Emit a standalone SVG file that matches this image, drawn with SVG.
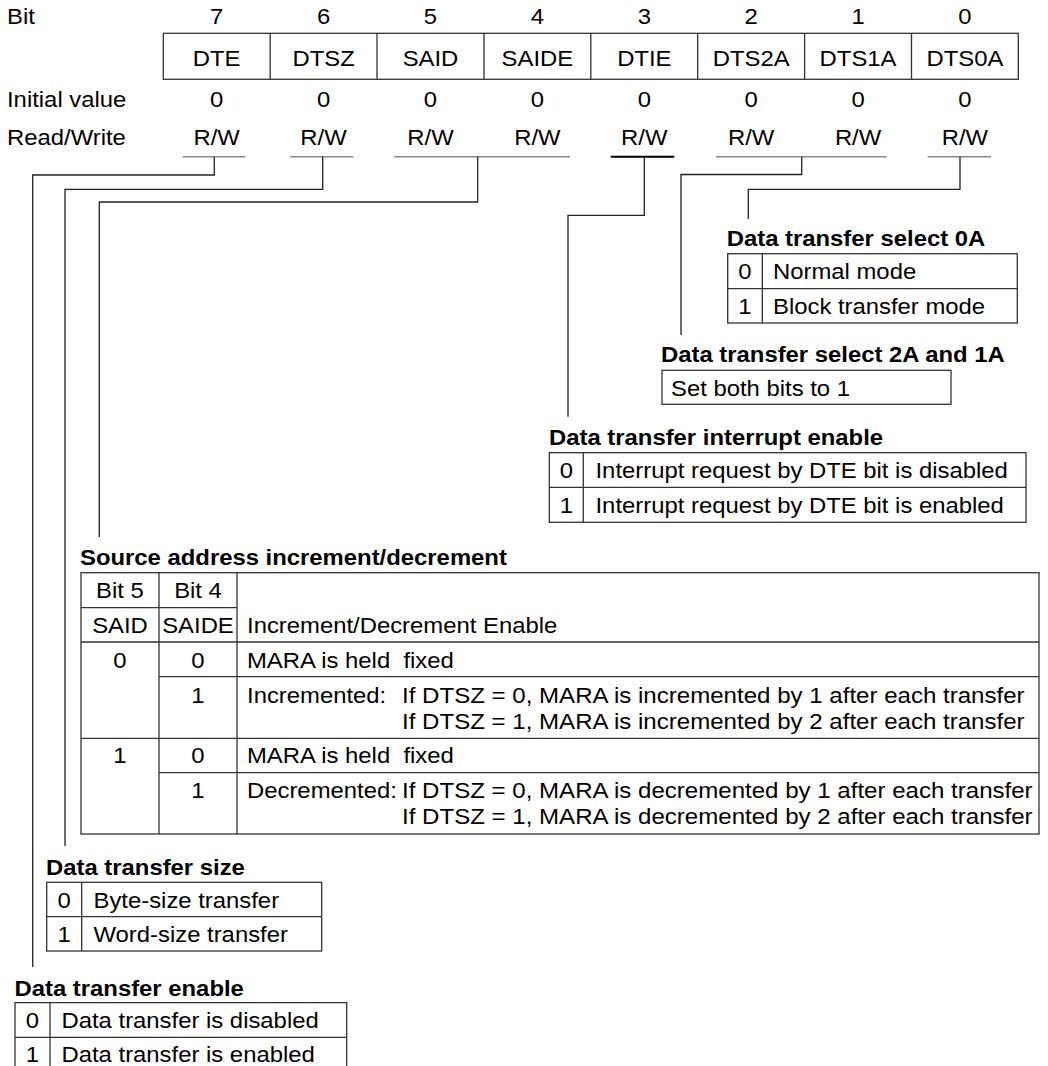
<svg xmlns="http://www.w3.org/2000/svg" width="1048" height="1066" viewBox="0 0 1048 1066">
<style>
text{font-family:"Liberation Sans",Arial,Helvetica,sans-serif;font-size:21.5px;fill:#000;transform-box:fill-box;transform:scaleX(1.11);transform-origin:0% 50%;white-space:pre}
.m{text-anchor:middle;transform-origin:50% 50%}
.b{font-weight:bold}
.w{transform:scaleX(1.12)}
.box{fill:none;stroke:#333;stroke-width:1.3}
.ln{fill:none;stroke:#333;stroke-width:1.3}
.ul{stroke:#888;stroke-width:1.6}
.conn{fill:none;stroke:#222;stroke-width:1.3}
</style>
<rect width="1048" height="1066" fill="#fff"/>

<g id="register">
<text x="7" y="24">Bit</text>
<text x="7" y="107">Initial value</text>
<text x="7" y="145.5">Read/Write</text>
<g class="bitnums">
<text class="m" x="216.7" y="24">7</text>
<text class="m" x="323.6" y="24">6</text>
<text class="m" x="430.5" y="24">5</text>
<text class="m" x="537.4" y="24">4</text>
<text class="m" x="644.3" y="24">3</text>
<text class="m" x="751.2" y="24">2</text>
<text class="m" x="858.1" y="24">1</text>
<text class="m" x="965" y="24">0</text>
</g>
<rect class="box" x="163.3" y="33.3" width="855" height="46"/>
<path class="ln" d="M270.2 33.3V79.3M377 33.3V79.3M484 33.3V79.3M590.8 33.3V79.3M697.7 33.3V79.3M804.6 33.3V79.3M911.5 33.3V79.3"/>
<text class="m" x="216.7" y="66">DTE</text>
<text class="m" x="323.6" y="66">DTSZ</text>
<text class="m" x="430.5" y="66">SAID</text>
<text class="m" x="537.4" y="66">SAIDE</text>
<text class="m" x="644.3" y="66">DTIE</text>
<text class="m" x="751.2" y="66">DTS2A</text>
<text class="m" x="858.1" y="66">DTS1A</text>
<text class="m" x="965" y="66">DTS0A</text>
<text class="m" x="216.7" y="107">0</text>
<text class="m" x="323.6" y="107">0</text>
<text class="m" x="430.5" y="107">0</text>
<text class="m" x="537.4" y="107">0</text>
<text class="m" x="644.3" y="107">0</text>
<text class="m" x="751.2" y="107">0</text>
<text class="m" x="858.1" y="107">0</text>
<text class="m" x="965" y="107">0</text>
<text class="m" x="216.7" y="145.5">R/W</text>
<text class="m" x="323.6" y="145.5">R/W</text>
<text class="m" x="430.5" y="145.5">R/W</text>
<text class="m" x="537.4" y="145.5">R/W</text>
<text class="m" x="644.3" y="145.5">R/W</text>
<text class="m" x="751.2" y="145.5">R/W</text>
<text class="m" x="858.1" y="145.5">R/W</text>
<text class="m" x="965" y="145.5">R/W</text>
<path class="ul" d="M182.7 156.7H245.3M290.3 156.7H353.3M394.3 156.7H570M716 156.7H886.7M927.7 156.7H991"/>
<path d="M610.7 156.7H674.3" stroke="#000" stroke-width="2"/>
</g>

<g id="connectors">
<polyline class="conn" points="214.3,156.7 214.3,175 32.7,175 32.7,967"/>
<polyline class="conn" points="322.7,156.7 322.7,189.3 65,189.3 65,846"/>
<polyline class="conn" points="477.7,156.7 477.7,202 99.3,202 99.3,537"/>
<polyline class="conn" points="644.3,156.7 644.3,215.3 568,215.3 568,416.7"/>
<polyline class="conn" points="801.7,156.7 801.7,174.5 681,174.5 681,335"/>
<polyline class="conn" points="960,156.7 960,189.3 748.3,189.3 748.3,219"/>
</g>

<g id="dts0a">
<text class="b" x="726.7" y="246">Data transfer select 0A</text>
<rect class="box" x="727.7" y="253.7" width="289.6" height="69.3"/>
<path class="ln" d="M727.7 288.7H1017.3M762.3 253.7V323"/>
<text class="m" x="745" y="279.3">0</text>
<text x="773" y="279.3">Normal mode</text>
<text class="m" x="745" y="314.3">1</text>
<text x="773" y="314.3">Block transfer mode</text>
</g>

<g id="dts2a1a">
<text class="b" x="661" y="361.7">Data transfer select 2A and 1A</text>
<rect class="box" x="662" y="370.3" width="289" height="34"/>
<text x="671" y="395.7">Set both bits to 1</text>
</g>

<g id="dtie">
<text class="b" x="549" y="445">Data transfer interrupt enable</text>
<rect class="box" x="549.3" y="452.7" width="476.7" height="69.6"/>
<path class="ln" d="M549.3 487.3H1026M583.3 452.7V522.3"/>
<text class="m" x="566.3" y="477.7">0</text>
<text x="595.5" y="477.7">Interrupt request by DTE bit is disabled</text>
<text class="m" x="566.3" y="512.7">1</text>
<text x="595.5" y="512.7">Interrupt request by DTE bit is enabled</text>
</g>

<g id="said">
<text class="b" x="80" y="565">Source address increment/decrement</text>
<rect class="box" x="81" y="572.7" width="958" height="261.3"/>
<path class="ln" d="M159 572.7V834M237 572.7V834M81 607.7H237M81 642H1039M159 676.7H1039M81 738.3H1039M159 772.7H1039"/>
<text class="m" x="120" y="598.3">Bit 5</text>
<text class="m" x="198" y="598.3">Bit 4</text>
<text class="m" x="120" y="633.3">SAID</text>
<text class="m" x="198" y="633.3">SAIDE</text>
<text x="247" y="633.3">Increment/Decrement Enable</text>
<text class="m" x="120" y="668.3">0</text>
<text class="m" x="198" y="668.3">0</text>
<text x="247" y="668.3">MARA is held  fixed</text>
<text class="m" x="198" y="702.7">1</text>
<text x="247" y="702.7">Incremented:</text>
<text class="w" x="402" y="702.7">If DTSZ = 0, MARA is incremented by 1 after each transfer</text>
<text class="w" x="402" y="729.3">If DTSZ = 1, MARA is incremented by 2 after each transfer</text>
<text class="m" x="120" y="763.3">1</text>
<text class="m" x="198" y="763.3">0</text>
<text x="247" y="763.3">MARA is held  fixed</text>
<text class="m" x="198" y="797.7">1</text>
<text x="247" y="797.7">Decremented:</text>
<text class="w" x="402" y="797.7">If DTSZ = 0, MARA is decremented by 1 after each transfer</text>
<text class="w" x="402" y="824.3">If DTSZ = 1, MARA is decremented by 2 after each transfer</text>
</g>

<g id="dtsz">
<text class="b" x="46" y="875">Data transfer size</text>
<rect class="box" x="46.7" y="882.3" width="275" height="68.7"/>
<path class="ln" d="M46.7 916.7H321.7M81.7 882.3V951"/>
<text class="m" x="64.2" y="908.3">0</text>
<text x="93.5" y="908.3">Byte-size transfer</text>
<text class="m" x="64.2" y="941.7">1</text>
<text x="93.5" y="941.7">Word-size transfer</text>
</g>

<g id="dte">
<text class="b" x="14.5" y="995.7">Data transfer enable</text>
<path class="box" d="M15 1066V1002.7H346.7V1066M15 1037.3H346.7M50 1002.7V1066"/>
<text class="m" x="32.5" y="1028.3">0</text>
<text x="61.5" y="1028.3">Data transfer is disabled</text>
<text class="m" x="32.5" y="1061.7">1</text>
<text x="61.5" y="1061.7">Data transfer is enabled</text>
</g>
</svg>
